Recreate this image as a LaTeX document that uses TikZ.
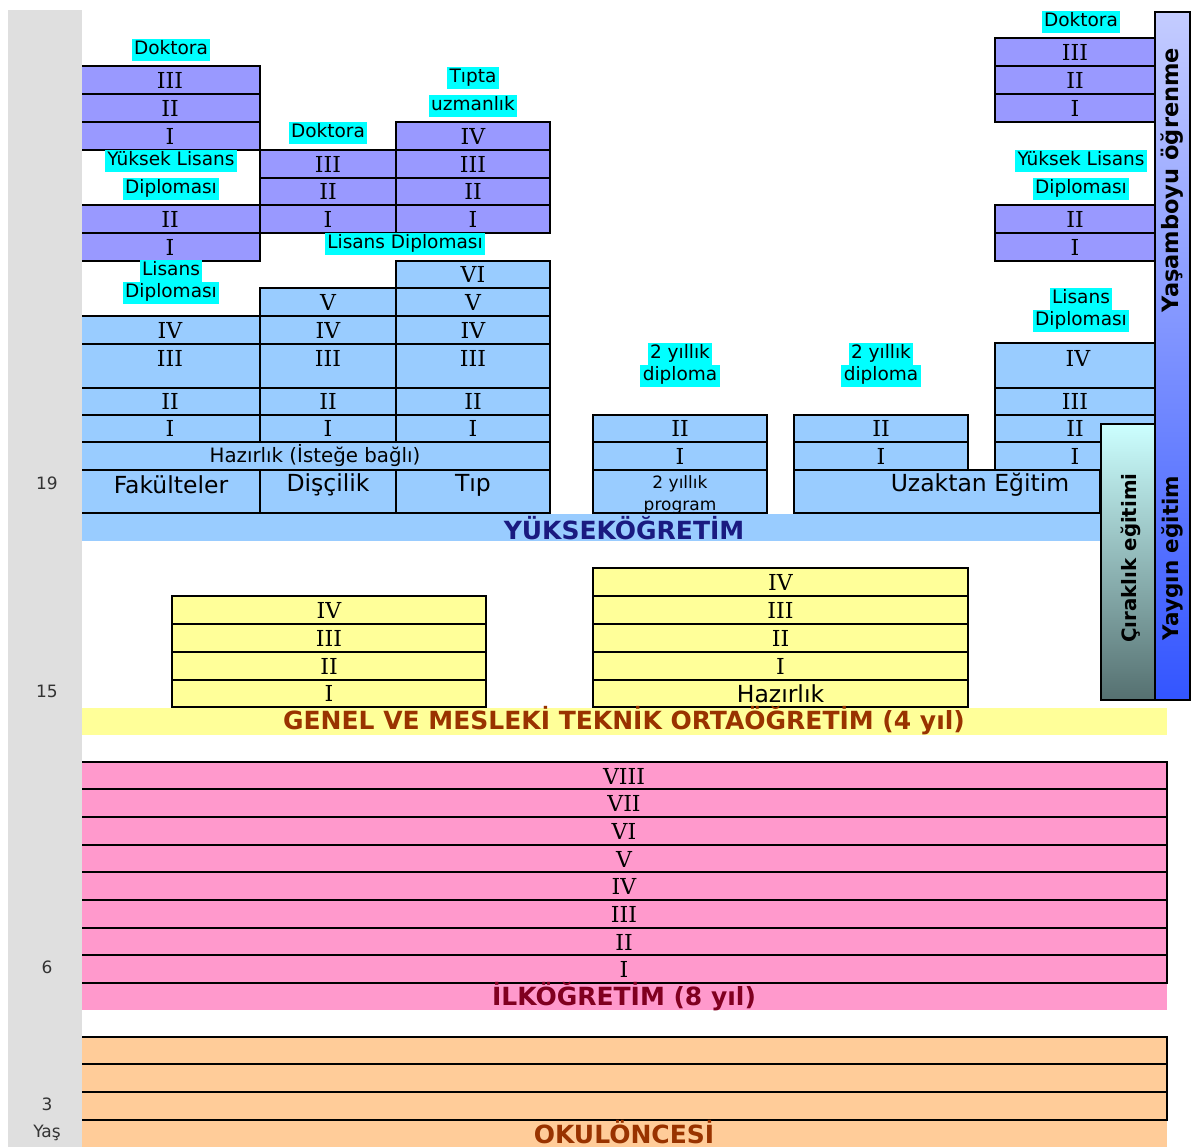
\documentclass[tikz,border=0pt]{standalone}
\usepackage{fontspec}
\setmainfont{DejaVu Sans}
\newfontfamily\numfam{DejaVu Serif}
\definecolor{purc}{HTML}{9999FF}
\definecolor{bluc}{HTML}{99CCFF}
\definecolor{cyanc}{HTML}{00FFFF}
\definecolor{yelc}{HTML}{FFFF99}
\definecolor{pinkc}{HTML}{FF99CC}
\definecolor{orac}{HTML}{FFCC99}
\definecolor{grayc}{HTML}{DFDFDF}
\definecolor{navyc}{HTML}{1A1A80}
\definecolor{brownc}{HTML}{993300}
\definecolor{redc}{HTML}{800020}
\definecolor{ytop}{HTML}{C4CCFF}
\definecolor{ybot}{HTML}{3355FF}
\definecolor{ctop}{HTML}{CCFFFF}
\definecolor{cbot}{HTML}{557070}
\definecolor{agec}{HTML}{333333}
\newcommand\numfont{\numfam\fontsize{22}{26}\selectfont}
\newcommand\labfont{\fontsize{18.5}{22}\selectfont}
\newcommand\bigsans{\fontsize{23.5}{27}\selectfont}
\newcommand\hazfont{\fontsize{19.8}{23}\selectfont}
\newcommand\smallsans{\fontsize{17}{20}\selectfont}
\newcommand\headfont{\bfseries\fontsize{25}{29}\selectfont}
\newcommand\agefont{\fontsize{17}{20}\selectfont}
\newcommand\cellbox[7]{\node[#2, minimum width={#5-#3}, minimum height={#6-#4}] (#1) at ({(#3+#5)/2},{(#4+#6)/2}) {#7};}
\tikzset{
 box/.style={draw=black, line width=1.3pt, inner sep=0pt, font=\numfont},
 pur/.style={box, fill=purc},
 blu/.style={box, fill=bluc},
 yel/.style={box, fill=yelc},
 pnk/.style={box, fill=pinkc},
 ora/.style={box, fill=orac},
 band/.style={inner sep=0pt, draw=none},
 lab/.style={fill=cyanc, font=\labfont, inner xsep=2.5pt, inner ysep=1.5pt, text height=14.5pt, text depth=5pt},
 txt/.style={inner sep=0pt},
 head/.style={font=\headfont, inner sep=0pt},
 age/.style={font=\agefont, text=agec, inner sep=0pt},
 vtext/.style={rotate=90, inner sep=0pt, text=black},
}
\begin{document}
\begin{tikzpicture}[x=1pt,y=-1pt]
\useasboundingbox (0,0) rectangle (1192,1147);
% ---- purple (graduate) ----
\cellbox{pL3}{pur}{80}{66}{260}{94}{III}
\cellbox{pL2}{pur}{80}{94}{260}{122}{II}
\cellbox{pL1}{pur}{80}{122}{260}{150}{I}
\cellbox{pLm2}{pur}{80}{205}{260}{233}{II}
\cellbox{pLm1}{pur}{80}{233}{260}{261}{I}
\cellbox{pD3}{pur}{260}{150}{396}{178}{III}
\cellbox{pD2}{pur}{260}{178}{396}{205}{II}
\cellbox{pD1}{pur}{260}{205}{396}{233}{I}
\cellbox{pT4}{pur}{396}{122}{550}{150}{IV}
\cellbox{pT3}{pur}{396}{150}{550}{178}{III}
\cellbox{pT2}{pur}{396}{178}{550}{205}{II}
\cellbox{pT1}{pur}{396}{205}{550}{233}{I}
\cellbox{pR3}{pur}{995}{38}{1155}{66}{III}
\cellbox{pR2}{pur}{995}{66}{1155}{94}{II}
\cellbox{pR1}{pur}{995}{94}{1155}{122}{I}
\cellbox{pRm2}{pur}{995}{205}{1155}{233}{II}
\cellbox{pRm1}{pur}{995}{233}{1155}{261}{I}
% ---- blue (undergraduate) ----
\cellbox{bF4}{blu}{80}{316}{260}{344}{IV}
\cellbox{bF3}{blu}{80}{344}{260}{388}{}
\node[txt,font=\numfont] (bF3t) at (170,358) {III};
\cellbox{bF2}{blu}{80}{388}{260}{415}{II}
\cellbox{bF1}{blu}{80}{415}{260}{442}{I}
\cellbox{bD5}{blu}{260}{288}{396}{316}{V}
\cellbox{bD4}{blu}{260}{316}{396}{344}{IV}
\cellbox{bD3}{blu}{260}{344}{396}{388}{}
\node[txt,font=\numfont] (bD3t) at (328,358) {III};
\cellbox{bD2}{blu}{260}{388}{396}{415}{II}
\cellbox{bD1}{blu}{260}{415}{396}{442}{I}
\cellbox{bT6}{blu}{396}{261}{550}{288}{VI}
\cellbox{bT5}{blu}{396}{288}{550}{316}{V}
\cellbox{bT4}{blu}{396}{316}{550}{344}{IV}
\cellbox{bT3}{blu}{396}{344}{550}{388}{}
\node[txt,font=\numfont] (bT3t) at (473,358) {III};
\cellbox{bT2}{blu}{396}{388}{550}{415}{II}
\cellbox{bT1}{blu}{396}{415}{550}{442}{I}
\cellbox{bHaz}{blu,font=\hazfont}{80}{442}{550}{470}{Hazırlık (İsteğe bağlı)}
\cellbox{bFak}{blu}{80}{470}{260}{513}{}
\node[txt,font=\bigsans] (bFakt) at (171,485) {Fakülteler};
\cellbox{bDis}{blu}{260}{470}{396}{513}{}
\node[txt,font=\bigsans] (bDist) at (328,485) {Dişçilik};
\cellbox{bTip}{blu}{396}{470}{550}{513}{}
\node[txt,font=\bigsans] (bTipt) at (473,485) {Tıp};
\cellbox{bA2}{blu}{593}{415}{767}{442}{II}
\cellbox{bA1}{blu}{593}{442}{767}{470}{I}
\cellbox{bAp}{blu}{593}{470}{767}{513}{}
\node[txt,font=\smallsans] (bApt1) at (680,484) {2 yıllık};
\node[txt,font=\smallsans,anchor=base] (bApt2) at (680,511) {program};
\cellbox{bB2}{blu}{794}{415}{968}{442}{II}
\cellbox{bB1}{blu}{794}{442}{968}{470}{I}
\cellbox{bR4}{blu}{995}{343}{1155}{388}{}
\node[txt,font=\numfont] (bR4t) at (1078,358) {IV};
\cellbox{bR3}{blu}{995}{388}{1155}{415}{III}
\cellbox{bR2}{blu}{995}{415}{1155}{442}{II}
\cellbox{bR1}{blu}{995}{442}{1155}{470}{I}
\cellbox{bUz}{blu}{794}{470}{1100}{513}{}
\node[txt,font=\bigsans] (bUzt) at (980,485) {Uzaktan Eğitim};
\cellbox{bandY}{band,fill=bluc}{80}{514}{1100}{541}{}
\node[head,text=navyc] (hY) at (624,528) {YÜKSEKÖĞRETİM};
% ---- yellow (secondary) ----
\cellbox{yL4}{yel}{172}{596}{486}{624}{IV}
\cellbox{yL3}{yel}{172}{624}{486}{652}{III}
\cellbox{yL2}{yel}{172}{652}{486}{680}{II}
\cellbox{yL1}{yel}{172}{680}{486}{707}{I}
\cellbox{yR4}{yel}{593}{568}{968}{596}{IV}
\cellbox{yR3}{yel}{593}{596}{968}{624}{III}
\cellbox{yR2}{yel}{593}{624}{968}{652}{II}
\cellbox{yR1}{yel}{593}{652}{968}{680}{I}
\cellbox{yRh}{yel,font=\bigsans}{593}{680}{968}{707}{Hazırlık}
\cellbox{bandG}{band,fill=yelc}{80}{708}{1167}{735}{}
\node[head,text=brownc] (hG) at (624,721) {GENEL VE MESLEKİ TEKNİK ORTAÖĞRETİM (4 yıl)};
% ---- pink (primary) ----
\cellbox{bandI}{band,fill=pinkc}{80}{983}{1167}{1010}{}
\cellbox{k8}{pnk}{80}{762}{1167}{789}{}
\cellbox{k7}{pnk}{80}{789}{1167}{817}{}
\cellbox{k6}{pnk}{80}{817}{1167}{845}{}
\cellbox{k5}{pnk}{80}{845}{1167}{872}{}
\cellbox{k4}{pnk}{80}{872}{1167}{900}{}
\cellbox{k3}{pnk}{80}{900}{1167}{928}{}
\cellbox{k2}{pnk}{80}{928}{1167}{955}{}
\cellbox{k1}{pnk}{80}{955}{1167}{983}{}
\node[txt,font=\numfont] (k8t) at (624,776) {VIII};
\node[txt,font=\numfont] (k7t) at (624,803) {VII};
\node[txt,font=\numfont] (k6t) at (624,831) {VI};
\node[txt,font=\numfont] (k5t) at (624,859) {V};
\node[txt,font=\numfont] (k4t) at (624,886) {IV};
\node[txt,font=\numfont] (k3t) at (624,914) {III};
\node[txt,font=\numfont] (k2t) at (624,942) {II};
\node[txt,font=\numfont] (k1t) at (624,969) {I};
\node[head,text=redc] (hI) at (624,997) {İLKÖĞRETİM (8 yıl)};
% ---- orange (preschool) ----
\cellbox{bandO}{band,fill=orac}{80}{1120}{1167}{1147}{}
\cellbox{o3}{ora}{80}{1037}{1167}{1064}{}
\cellbox{o2}{ora}{80}{1064}{1167}{1092}{}
\cellbox{o1}{ora}{80}{1092}{1167}{1120}{}
\node[head,text=brownc,anchor=base] (hO) at (624,1143) {OKULÖNCESİ};
% ---- age bar ----
\cellbox{agebar}{band,fill=grayc}{8}{10}{82}{1147}{}
\node[age] (a19) at (47,483) {19};
\node[age] (a15) at (47,691) {15};
\node[age] (a6) at (47,967) {6};
\node[age] (a3) at (47,1104) {3};
\node[age] (ayas) at (47,1133) {Yaş};
% ---- vertical bars ----
\cellbox{yasbar}{draw=black,line width=1.3pt,inner sep=0pt,top color=ytop,bottom color=ybot}{1155}{12}{1190}{700}{}
\cellbox{cirbar}{draw=black,line width=1.3pt,inner sep=0pt,top color=ctop,bottom color=cbot}{1101}{424}{1155}{700}{}
\node[vtext,font=\bfseries\fontsize{22.5}{26}\selectfont] (tYas) at (1172,180) {Yaşamboyu öğrenme};
\node[vtext,font=\bfseries\fontsize{21.5}{25}\selectfont] (tYay) at (1172,558) {Yaygın eğitim};
\node[vtext,font=\bfseries\fontsize{19.8}{23}\selectfont] (tCir) at (1131,558) {Çıraklık eğitimi};
% ---- cyan labels ----
\node[lab] (lD1) at (171,50) {Doktora};
\node[lab] (lYL1) at (171,161) {Yüksek Lisans};
\node[lab] (lYL2) at (171,189) {Diploması};
\node[lab] (lL1) at (171,271) {Lisans};
\node[lab] (lL2) at (171,293) {Diploması};
\node[lab] (lD2) at (328,133) {Doktora};
\node[lab] (lT1) at (473,78) {Tıpta};
\node[lab] (lT2) at (473,106) {uzmanlık};
\node[lab] (lLD) at (405,244) {Lisans Diploması};
\node[lab] (l2a1) at (680,354) {2 yıllık};
\node[lab] (l2a2) at (680,376) {diploma};
\node[lab] (l2b1) at (881,354) {2 yıllık};
\node[lab] (l2b2) at (881,376) {diploma};
\node[lab] (lD3) at (1081,22) {Doktora};
\node[lab] (lYL3) at (1081,161) {Yüksek Lisans};
\node[lab] (lYL4) at (1081,189) {Diploması};
\node[lab] (lL3) at (1081,299) {Lisans};
\node[lab] (lL4) at (1081,321) {Diploması};
\end{tikzpicture}
\end{document}
